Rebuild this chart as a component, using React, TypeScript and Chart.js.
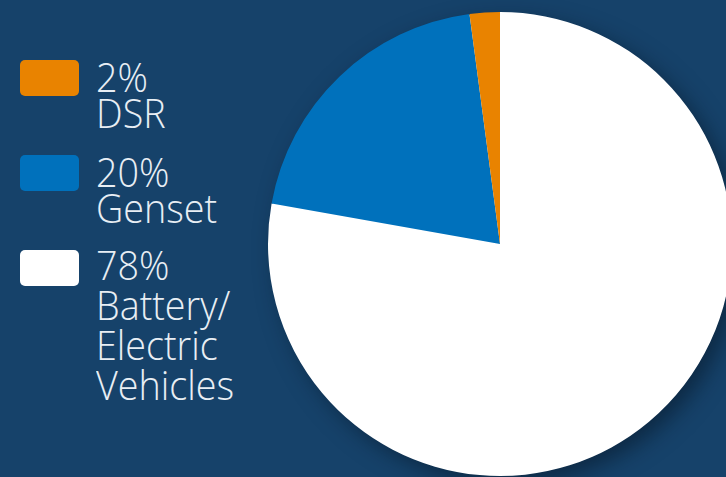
import React, { useEffect, useRef } from "react";
import { Chart, registerables } from "chart.js";

Chart.register(...registerables);

const categories = ["Battery/\nElectric\nVehicles", "Genset", "DSR"];
const values = [77.8, 20.1, 2.1];
const percentLabels = ["78%", "20%", "2%"];
const colors = ["#ffffff", "#0071bc", "#e98300"];
const legendOrder = [2, 1, 0];

const BG = "#16426a";

const shadowPlugin = {
  id: "pieShadow",
  beforeDatasetsDraw(chart: any) {
    const meta = chart.getDatasetMeta(0);
    const arc = meta.data[0];
    if (!arc) return;
    const { x, y, outerRadius } = arc.getProps(["x", "y", "outerRadius"], true);
    const ctx = chart.ctx;
    ctx.save();
    ctx.shadowColor = "rgba(5,20,35,0.55)";
    ctx.shadowBlur = 22;
    ctx.shadowOffsetX = 8;
    ctx.shadowOffsetY = 8;
    ctx.fillStyle = "#ffffff";
    ctx.beginPath();
    ctx.arc(x, y, outerRadius - 1, 0, Math.PI * 2);
    ctx.fill();
    ctx.restore();
  },
};

export default function App() {
  const ref = useRef<HTMLCanvasElement>(null);
  useEffect(() => {
    document.body.style.margin = "0";
    const chart = new Chart(ref.current!, {
      type: "pie",
      data: {
        labels: categories,
        datasets: [
          {
            data: values,
            backgroundColor: colors,
            borderWidth: 0,
          },
        ],
      },
      options: {
        animation: false,
        responsive: false,
        maintainAspectRatio: false,
        layout: { padding: 28 },
        plugins: {
          legend: { display: false },
          tooltip: { enabled: false },
        },
      },
      plugins: [shadowPlugin],
    });
    return () => chart.destroy();
  }, []);

  const font = "'Open Sans', 'DejaVu Sans Condensed', sans-serif";

  return (
    <div
      style={{
        position: "fixed",
        left: 0,
        top: 0,
        width: 726,
        height: 477,
        overflow: "hidden",
        background: BG,
      }}
    >
      <canvas
        ref={ref}
        width={520}
        height={520}
        style={{ position: "absolute", left: 240, top: -16, width: 520, height: 520 }}
      />
      {legendOrder.map((idx, i) => {
        const multi = categories[idx].includes("\n");
        return (
          <div key={idx} style={{ position: "absolute", left: 0, top: 60 + i * 95 }}>
            <div
              style={{
                position: "absolute",
                left: 20,
                top: 0,
                width: 59,
                height: 36,
                borderRadius: 5,
                background: colors[idx],
              }}
            />
            <div
              style={{
                position: "absolute",
                left: 96,
                top: multi ? -6 : -2,
                color: "#e8eef4",
                fontFamily: font,
                fontWeight: 300,
                fontSize: 41,
                lineHeight: multi ? "40px" : "36px",
                whiteSpace: "pre",
                transform: "scaleX(0.92)",
                transformOrigin: "0 0",
              }}
            >
              {percentLabels[idx] + "\n" + categories[idx]}
            </div>
          </div>
        );
      })}
    </div>
  );
}
